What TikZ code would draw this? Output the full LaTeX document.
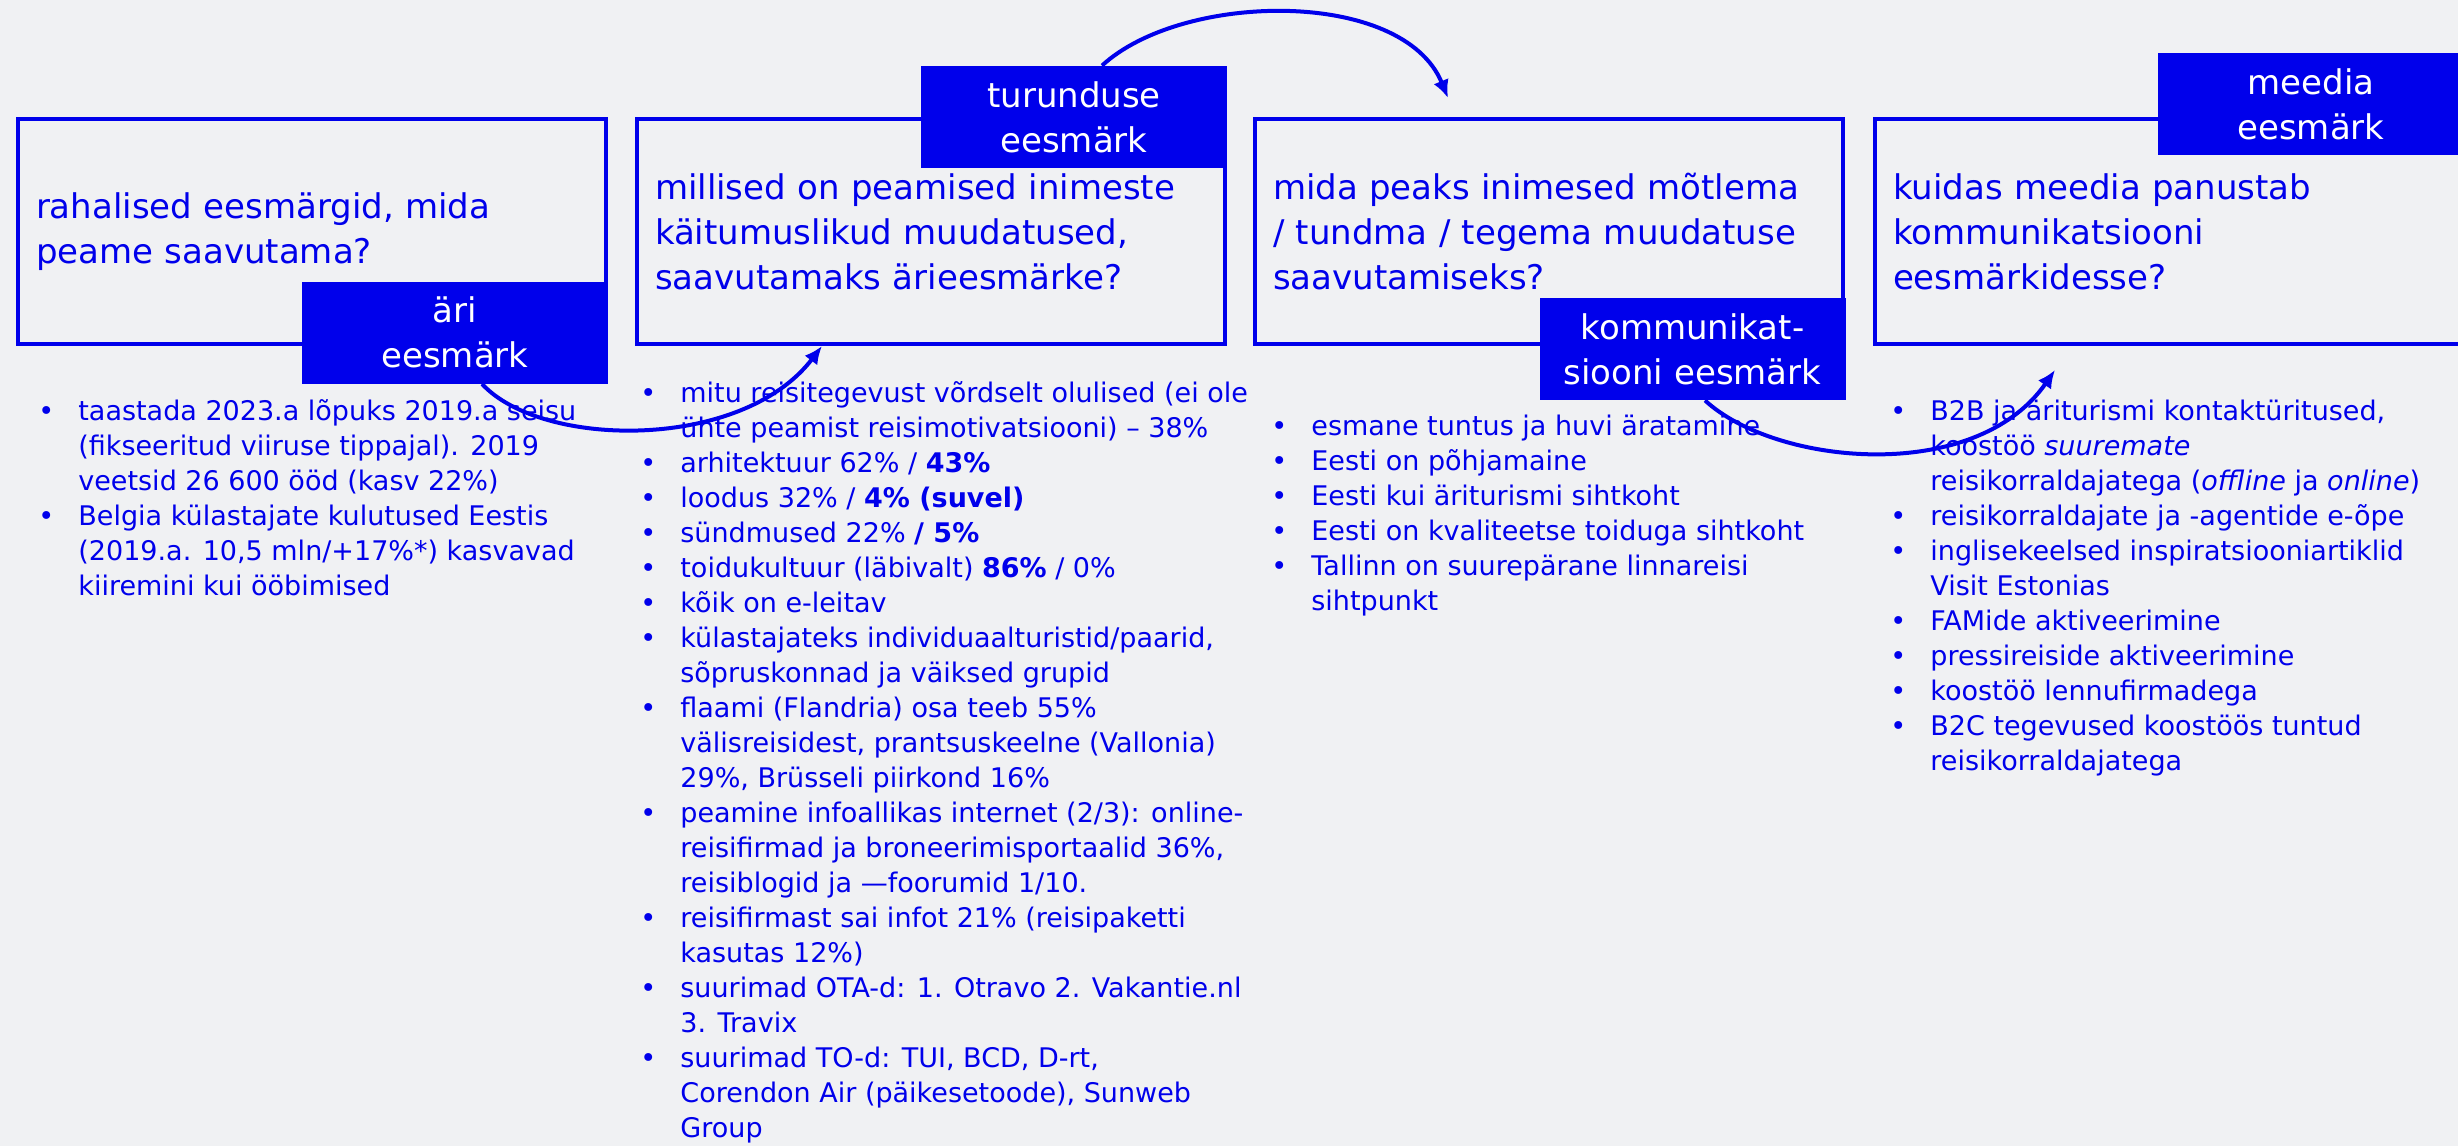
\documentclass[tikz,border=0pt]{standalone}
\usepackage{fontspec}
\setmainfont{DejaVu Sans}
\usetikzlibrary{arrows.meta}
\definecolor{vblue}{RGB}{0,0,235}
\definecolor{paper}{RGB}{240,241,243}

\begin{document}
\begin{tikzpicture}[x=0.5pt, y=-0.5pt,
  qbox/.style={draw=vblue, line width=2pt, text=vblue, anchor=north west, align=left, inner xsep=9pt, text width=276pt, minimum height=112.5pt, font=\fontsize{17}{22.5}\selectfont},
  tag/.style={fill=vblue, text=white, align=center, inner sep=0pt, minimum width=153pt, minimum height=51pt, font=\fontsize{17}{22.5}\selectfont},
  facts/.style={text=vblue, anchor=base west, inner sep=0pt, font=\fontsize{13.5}{17.5}\selectfont},
  link/.style={-{Latex[length=9pt,width=8pt]}, vblue, line width=2pt}]
\useasboundingbox (0,0) rectangle (2458,1146);
\fill[paper] (0,0) rectangle (2458,1146);

\node[qbox] (q1) at (16,117) {rahalised eesmärgid, mida\\peame saavutama?};
\node[qbox] (q2) at (635,117) {millised on peamised inimeste\\käitumuslikud muudatused,\\saavutamaks ärieesmärke?};
\node[qbox] (q3) at (1253,117) {mida peaks inimesed mõtlema\\/ tundma / tegema muudatuse\\saavutamiseks?};
\node[qbox] (q4) at (1873,117) {kuidas meedia panustab\\kommunikatsiooni\\eesmärkidesse?};

\node[tag] (t1) at (455,332.5) {äri\\eesmärk};
\node[tag] (t2) at (1074,117) {turunduse\\eesmärk};
\node[tag] (t3) at (1692.5,349) {kommunikat-\\siooni eesmärk};
\node[tag] (t4) at (2311,104) {meedia\\eesmärk};

\node[facts] (f1) at (38,420) {\begin{tabular}[t]{@{}p{20pt}@{}l@{}}
\textbullet & taastada 2023.a lõpuks 2019.a seisu\\
 & (fikseeritud viiruse tippajal). 2019\\
 & veetsid 26 600 ööd (kasv 22\%)\\
\textbullet & Belgia külastajate kulutused Eestis\\
 & (2019.a. 10,5 mln/+17\%*) kasvavad\\
 & kiiremini kui ööbimised
\end{tabular}};

\node[facts] (f2) at (640,402) {\begin{tabular}[t]{@{}p{20pt}@{}l@{}}
\textbullet & mitu reisitegevust võrdselt olulised (ei ole\\
 & ühte peamist reisimotivatsiooni) – 38\%\\
\textbullet & arhitektuur 62\% / \textbf{43\%}\\
\textbullet & loodus 32\% / \textbf{4\% (suvel)}\\
\textbullet & sündmused 22\% \textbf{/ 5\%}\\
\textbullet & toidukultuur (läbivalt) \textbf{86\%} / 0\%\\
\textbullet & kõik on e-leitav\\
\textbullet & külastajateks individuaalturistid/paarid,\\
 & sõpruskonnad ja väiksed grupid\\
\textbullet & flaami (Flandria) osa teeb 55\%\\
 & välisreisidest, prantsuskeelne (Vallonia)\\
 & 29\%, Brüsseli piirkond 16\%\\
\textbullet & peamine infoallikas internet (2/3): online-\\
 & reisifirmad ja broneerimisportaalid 36\%,\\
 & reisiblogid ja —foorumid 1/10.\\
\textbullet & reisifirmast sai infot 21\% (reisipaketti\\
 & kasutas 12\%)\\
\textbullet & suurimad OTA-d: 1. Otravo 2. Vakantie.nl\\
 & 3. Travix\\
\textbullet & suurimad TO-d: TUI, BCD, D-rt,\\
 & Corendon Air (päikesetoode), Sunweb\\
 & Group
\end{tabular}};

\node[facts] (f3) at (1271,435) {\begin{tabular}[t]{@{}p{20pt}@{}l@{}}
\textbullet & esmane tuntus ja huvi äratamine\\
\textbullet & Eesti on põhjamaine\\
\textbullet & Eesti kui äriturismi sihtkoht\\
\textbullet & Eesti on kvaliteetse toiduga sihtkoht\\
\textbullet & Tallinn on suurepärane linnareisi\\
 & sihtpunkt
\end{tabular}};

\node[facts] (f4) at (1890,420) {\begin{tabular}[t]{@{}p{20pt}@{}l@{}}
\textbullet & B2B ja äriturismi kontaktüritused,\\
 & koostöö \textit{suuremate}\\
 & reisikorraldajatega (\textit{offline} ja \textit{online})\\
\textbullet & reisikorraldajate ja -agentide e-õpe\\
\textbullet & inglisekeelsed inspiratsiooniartiklid\\
 & Visit Estonias\\
\textbullet & FAMide aktiveerimine\\
\textbullet & pressireiside aktiveerimine\\
\textbullet & koostöö lennufirmadega\\
\textbullet & B2C tegevused koostöös tuntud\\
 & reisikorraldajatega
\end{tabular}};

\draw[link] ([xshift=13.5pt]t1.south) .. controls +(60,65) and +(-80,105) .. ([xshift=93.5pt]q2.south west);
\draw[link] ([xshift=14pt]t2.north) .. controls +(80,-74) and +(-45,-110) .. ([xshift=97.5pt, yshift=9.5pt]q3.north west);
\draw[link] ([xshift=6.25pt]t3.south) .. controls +(70,65) and +(-80,115) .. ([xshift=91pt, yshift=-12pt]q4.south west);
\end{tikzpicture}
\end{document}
